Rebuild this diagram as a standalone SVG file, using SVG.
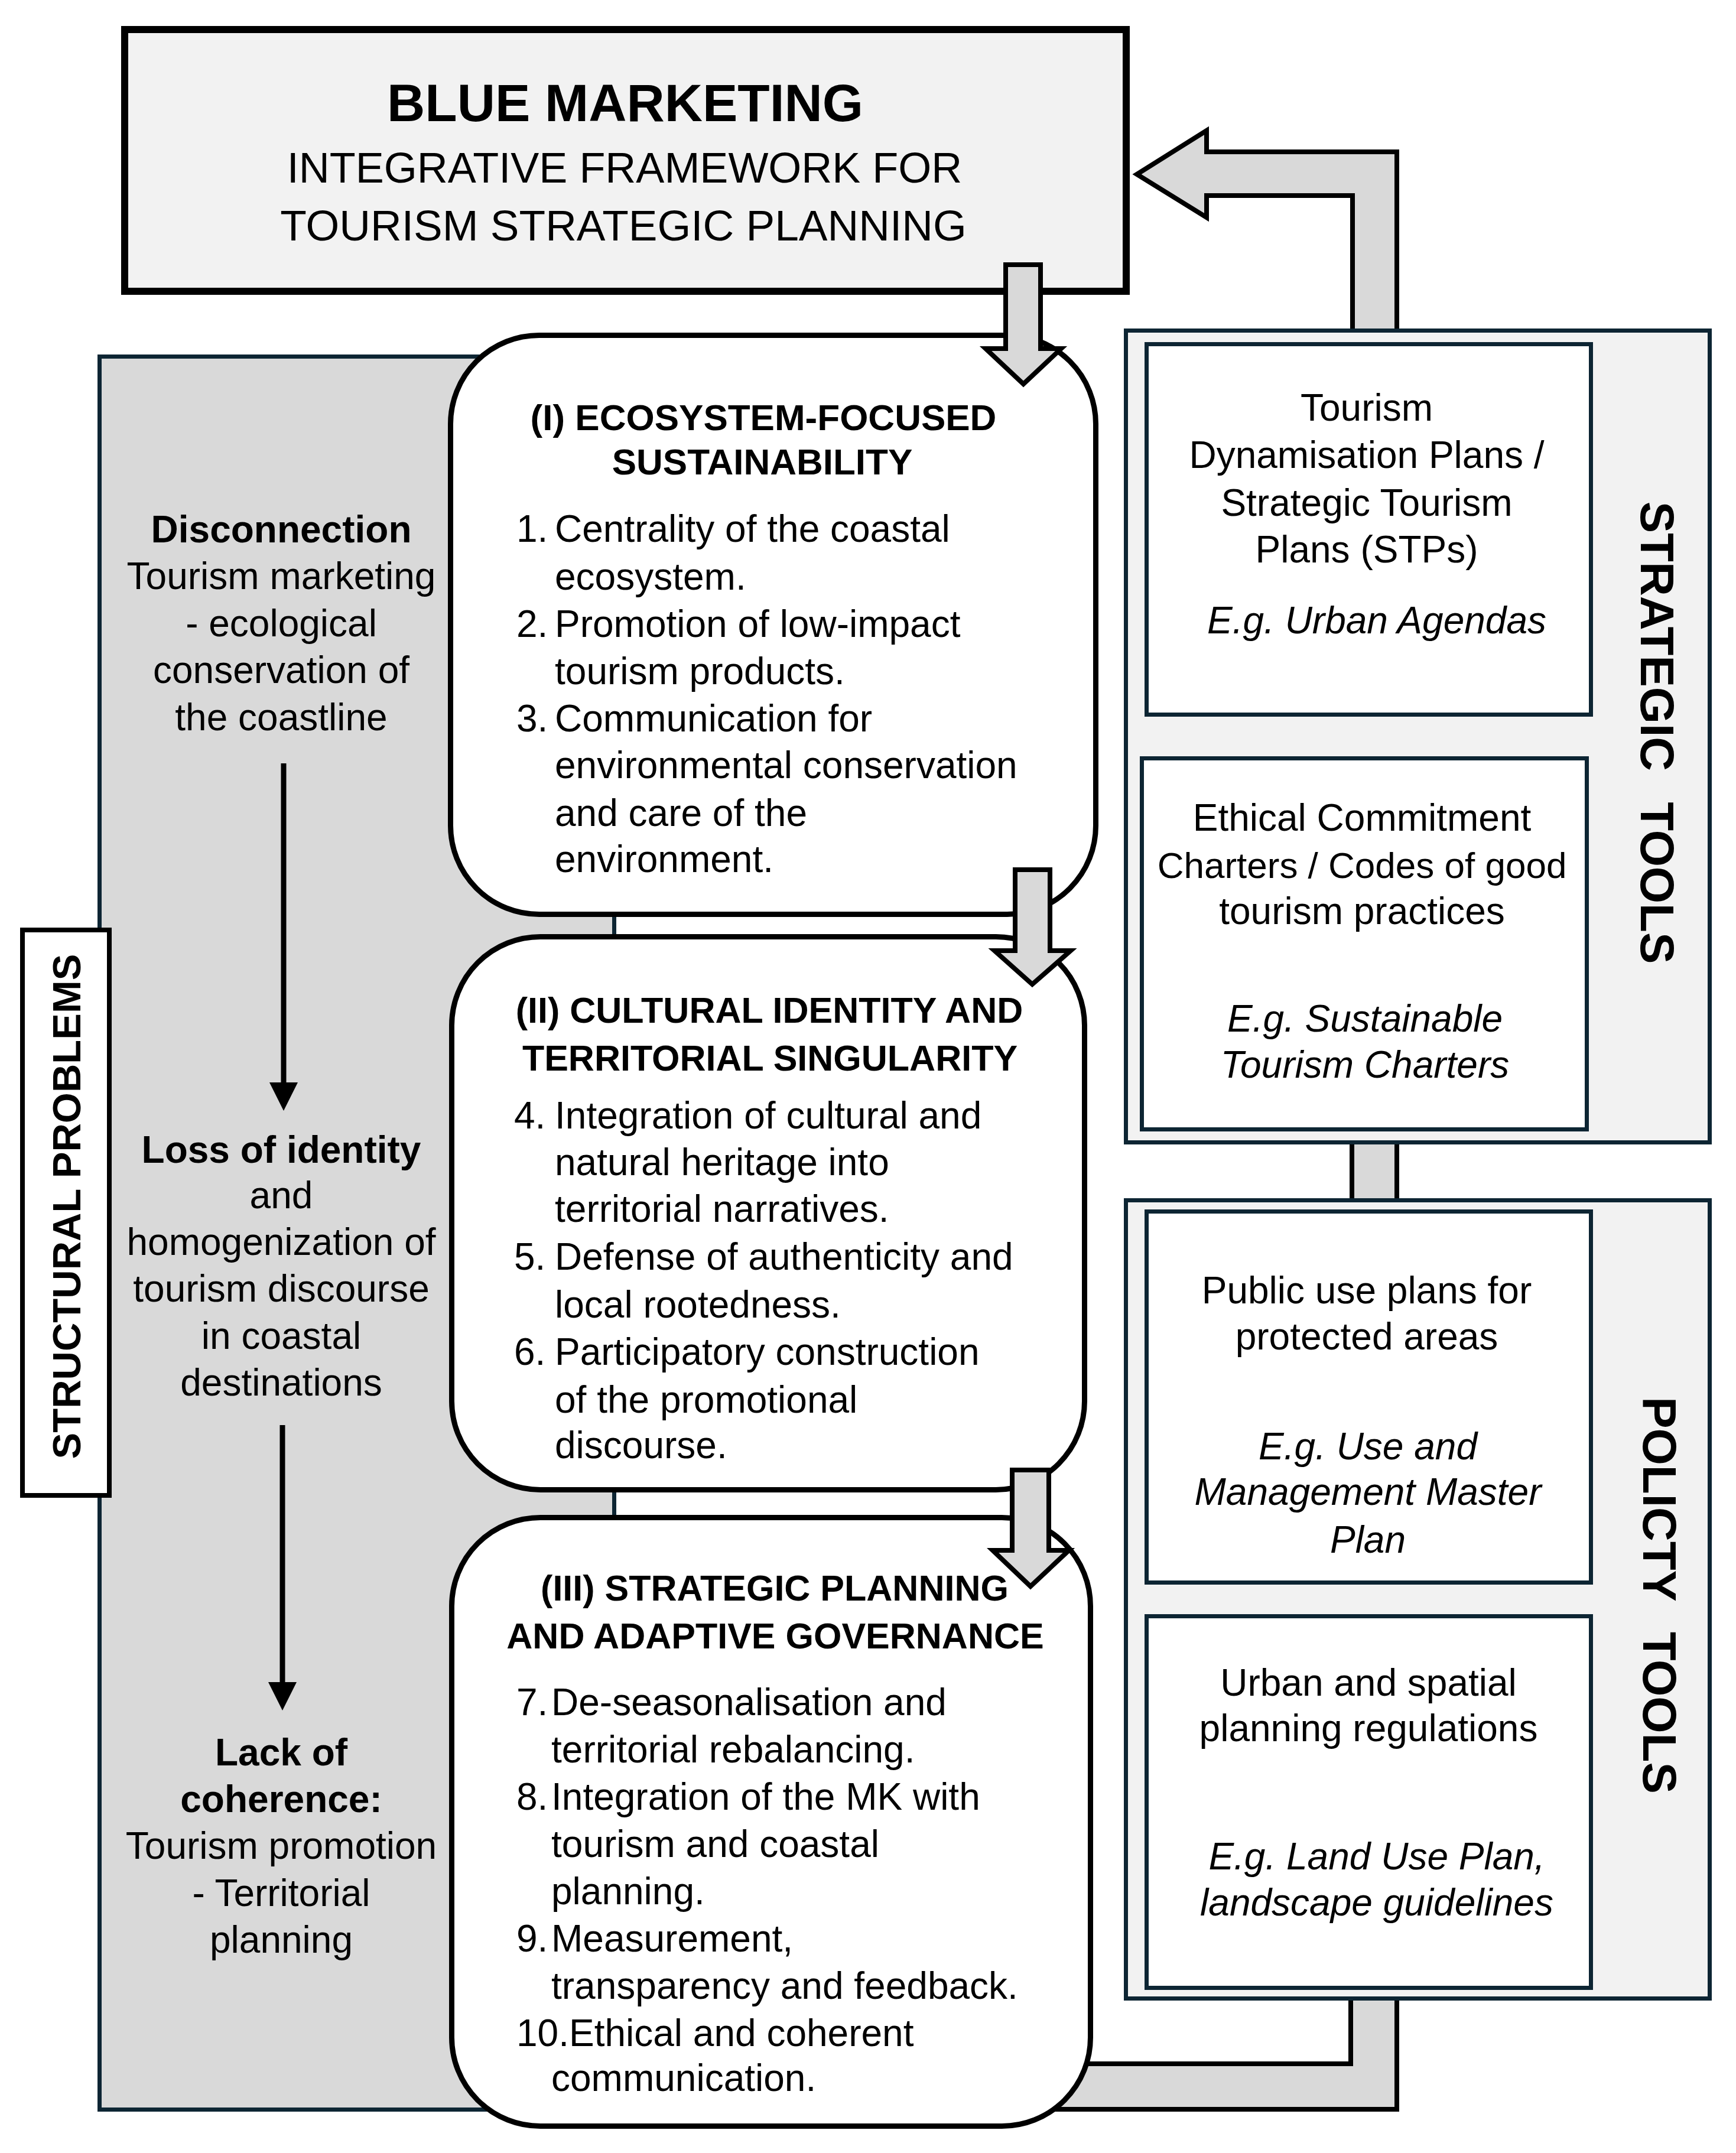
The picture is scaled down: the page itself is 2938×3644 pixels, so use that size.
<svg xmlns="http://www.w3.org/2000/svg" width="2938" height="3644" viewBox="0 0 2938 3644" font-size="64">
<defs>
<style>
.t{font-family:"Liberation Sans",Arial,sans-serif;fill:#000}
.b{font-weight:bold}
.i{font-style:italic}
.c{text-anchor:middle}
.blk{fill:#d9d9d9;stroke:#000;stroke-width:8;stroke-linejoin:miter}
.navy{stroke:#0d2533;stroke-width:7}
.rnd{fill:#fff;stroke:#000;stroke-width:9}
</style>
<marker id="ah" markerWidth="48" markerHeight="48" viewBox="0 0 48 48" refX="18" refY="24" orient="auto" markerUnits="userSpaceOnUse">
<path d="M0,0 L48,24 L0,48 Z" fill="#000"/>
</marker>
</defs>
<rect width="2938" height="3644" fill="#fff"/>

<g id="structural-panel">
<rect x="168.5" y="603.5" width="871" height="2967" fill="#d9d9d9" class="navy"/>
</g>

<g id="connectors">
<polygon class="blk" points="2364,3382 2364,3570 1500,3570 1500,3493 2286,3493 2286,3382"/>
<polygon class="blk" points="2364,560 2364,257 2042,257 2042,221 1924,295 2042,368 2042,331 2289,331 2289,560"/>
<rect class="blk" x="2288" y="1925" width="76" height="110"/>
</g>

<g id="structural-label">
<rect x="38" y="1574" width="147" height="957" fill="#fff" stroke="#000" stroke-width="8"/>
<text class="t b c" font-size="67" transform="translate(112,2042) rotate(-90)" y="24">STRUCTURAL PROBLEMS</text>
</g>

<g id="problem-1">
<text class="t b c" x="476" y="918">Disconnection</text>
<text class="t c" x="476" y="997">Tourism marketing</text>
<text class="t c" x="476" y="1077">- ecological</text>
<text class="t c" x="476" y="1156">conservation of</text>
<text class="t c" x="476" y="1236">the coastline</text>
</g>
<g id="problem-2">
<text class="t b c" x="476" y="1968">Loss of identity</text>
<text class="t c" x="476" y="2045">and</text>
<text class="t c" x="476" y="2124">homogenization of</text>
<text class="t c" x="476" y="2203">tourism discourse</text>
<text class="t c" x="476" y="2283">in coastal</text>
<text class="t c" x="476" y="2362">destinations</text>
</g>
<g id="problem-3">
<text class="t b c" x="476" y="2988">Lack of</text>
<text class="t b c" x="476" y="3067">coherence:</text>
<text class="t c" x="476" y="3146">Tourism promotion</text>
<text class="t c" x="476" y="3226">- Territorial</text>
<text class="t c" x="476" y="3305">planning</text>
</g>

<g id="problem-arrows">
<line x1="480" y1="1292" x2="480" y2="1850" stroke="#000" stroke-width="9" marker-end="url(#ah)"/>
<line x1="478" y1="2412" x2="478" y2="2865" stroke="#000" stroke-width="9" marker-end="url(#ah)"/>
</g>

<g id="strategic-tools">
<rect x="1905.5" y="559.5" width="988" height="1374" fill="#f2f2f2" class="navy"/>
<text class="t b" font-size="80" word-spacing="30" transform="translate(2805,1240) rotate(90)" y="28" text-anchor="middle">STRATEGIC TOOLS</text>
</g>
<g id="tool-stp">
<rect x="1940.5" y="582.5" width="752" height="627" fill="#fff" class="navy"/>
<text class="t c" x="2313" y="712">Tourism</text>
<text class="t c" x="2313" y="792">Dynamisation Plans /</text>
<text class="t c" x="2313" y="873">Strategic Tourism</text>
<text class="t c" x="2313" y="952">Plans (STPs)</text>
<text class="t c i" x="2330" y="1072">E.g. Urban Agendas</text>
</g>
<g id="tool-charters">
<rect x="1932.5" y="1283.5" width="753" height="628" fill="#fff" class="navy"/>
<text class="t c" x="2305" y="1406">Ethical Commitment</text>
<text class="t c" x="2305" y="1486" font-size="62">Charters / Codes of good</text>
<text class="t c" x="2305" y="1564">tourism practices</text>
<text class="t c i" x="2310" y="1746">E.g. Sustainable</text>
<text class="t c i" x="2310" y="1824">Tourism Charters</text>
</g>

<g id="policy-tools">
<rect x="1905.5" y="2031.5" width="988" height="1351" fill="#f2f2f2" class="navy"/>
<text class="t b" font-size="80" word-spacing="30" transform="translate(2809,2700) rotate(90)" y="28" text-anchor="middle">POLICTY TOOLS</text>
</g>
<g id="tool-public-use">
<rect x="1940.5" y="2050.5" width="752" height="628" fill="#fff" class="navy"/>
<text class="t c" x="2313" y="2206">Public use plans for</text>
<text class="t c" x="2313" y="2284">protected areas</text>
<text class="t c i" x="2315" y="2470">E.g. Use and</text>
<text class="t c i" x="2315" y="2547">Management Master</text>
<text class="t c i" x="2315" y="2628">Plan</text>
</g>
<g id="tool-urban">
<rect x="1940.5" y="2735.5" width="752" height="629" fill="#fff" class="navy"/>
<text class="t c" x="2316" y="2870">Urban and spatial</text>
<text class="t c" x="2316" y="2947">planning regulations</text>
<text class="t c i" x="2330" y="3164">E.g. Land Use Plan,</text>
<text class="t c i" x="2330" y="3242">landscape guidelines</text>
</g>

<g id="blue-marketing">
<rect x="211" y="50" width="1695" height="443" fill="#f2f2f2" stroke="#000" stroke-width="12"/>
<text class="t b c" x="1058" y="205" font-size="89">BLUE MARKETING</text>
<text class="t c" x="1057" y="309" font-size="72">INTEGRATIVE FRAMEWORK FOR</text>
<text class="t c" x="1055" y="407" font-size="73">TOURISM STRATEGIC PLANNING</text>
</g>

<g id="pillar-1">
<rect class="rnd" x="762.5" y="567.5" width="1092" height="980" rx="150" ry="150"/>
<text class="t b c" x="1292" y="728" font-size="62">(I) ECOSYSTEM-FOCUSED</text>
<text class="t b c" x="1290" y="803" font-size="62">SUSTAINABILITY</text>
<text class="t" x="874" y="917">1.</text><text class="t" x="939" y="917">Centrality of the coastal</text>
<text class="t" x="939" y="998">ecosystem.</text>
<text class="t" x="874" y="1078">2.</text><text class="t" x="939" y="1078">Promotion of low-impact</text>
<text class="t" x="939" y="1158">tourism products.</text>
<text class="t" x="874" y="1238">3.</text><text class="t" x="939" y="1238">Communication for</text>
<text class="t" x="939" y="1317">environmental conservation</text>
<text class="t" x="939" y="1398">and care of the</text>
<text class="t" x="939" y="1476">environment.</text>
</g>

<g id="pillar-2">
<rect class="rnd" x="764.5" y="1585.5" width="1071" height="936" rx="150" ry="150"/>
<text class="t b c" x="1302" y="1731" font-size="61">(II) CULTURAL IDENTITY AND</text>
<text class="t b c" x="1303" y="1812" font-size="61">TERRITORIAL SINGULARITY</text>
<text class="t" x="870" y="1910">4.</text><text class="t" x="939" y="1910">Integration of cultural and</text>
<text class="t" x="939" y="1989">natural heritage into</text>
<text class="t" x="939" y="2068">territorial narratives.</text>
<text class="t" x="870" y="2149">5.</text><text class="t" x="939" y="2149">Defense of authenticity and</text>
<text class="t" x="939" y="2230">local rootedness.</text>
<text class="t" x="870" y="2310">6.</text><text class="t" x="939" y="2310">Participatory construction</text>
<text class="t" x="939" y="2391">of the promotional</text>
<text class="t" x="939" y="2468">discourse.</text>
</g>

<g id="pillar-3">
<rect class="rnd" x="764.5" y="2568.5" width="1081" height="1030" rx="150" ry="150"/>
<text class="t b c" x="1311" y="2709" font-size="61">(III) STRATEGIC PLANNING</text>
<text class="t b c" x="1312" y="2790" font-size="61">AND ADAPTIVE GOVERNANCE</text>
<text class="t" x="874" y="2903">7.</text><text class="t" x="933" y="2903">De-seasonalisation and</text>
<text class="t" x="933" y="2983">territorial rebalancing.</text>
<text class="t" x="874" y="3063">8.</text><text class="t" x="933" y="3063">Integration of the MK with</text>
<text class="t" x="933" y="3143">tourism and coastal</text>
<text class="t" x="933" y="3223">planning.</text>
<text class="t" x="874" y="3303">9.</text><text class="t" x="933" y="3303">Measurement,</text>
<text class="t" x="933" y="3383">transparency and feedback.</text>
<text class="t" x="874" y="3463">10.Ethical and coherent</text>
<text class="t" x="933" y="3539">communication.</text>
</g>

<g id="flow-arrows">
<polygon class="blk" points="1702,448 1761,448 1761,590 1796,590 1732,650 1668,590 1702,590"/>
<polygon class="blk" points="1718,1472 1777,1472 1777,1609 1812,1609 1747,1666 1683,1609 1718,1609"/>
<polygon class="blk" points="1713,2488 1775,2488 1775,2624 1809,2624 1744,2685 1680,2624 1713,2624"/>
</g>
</svg>
